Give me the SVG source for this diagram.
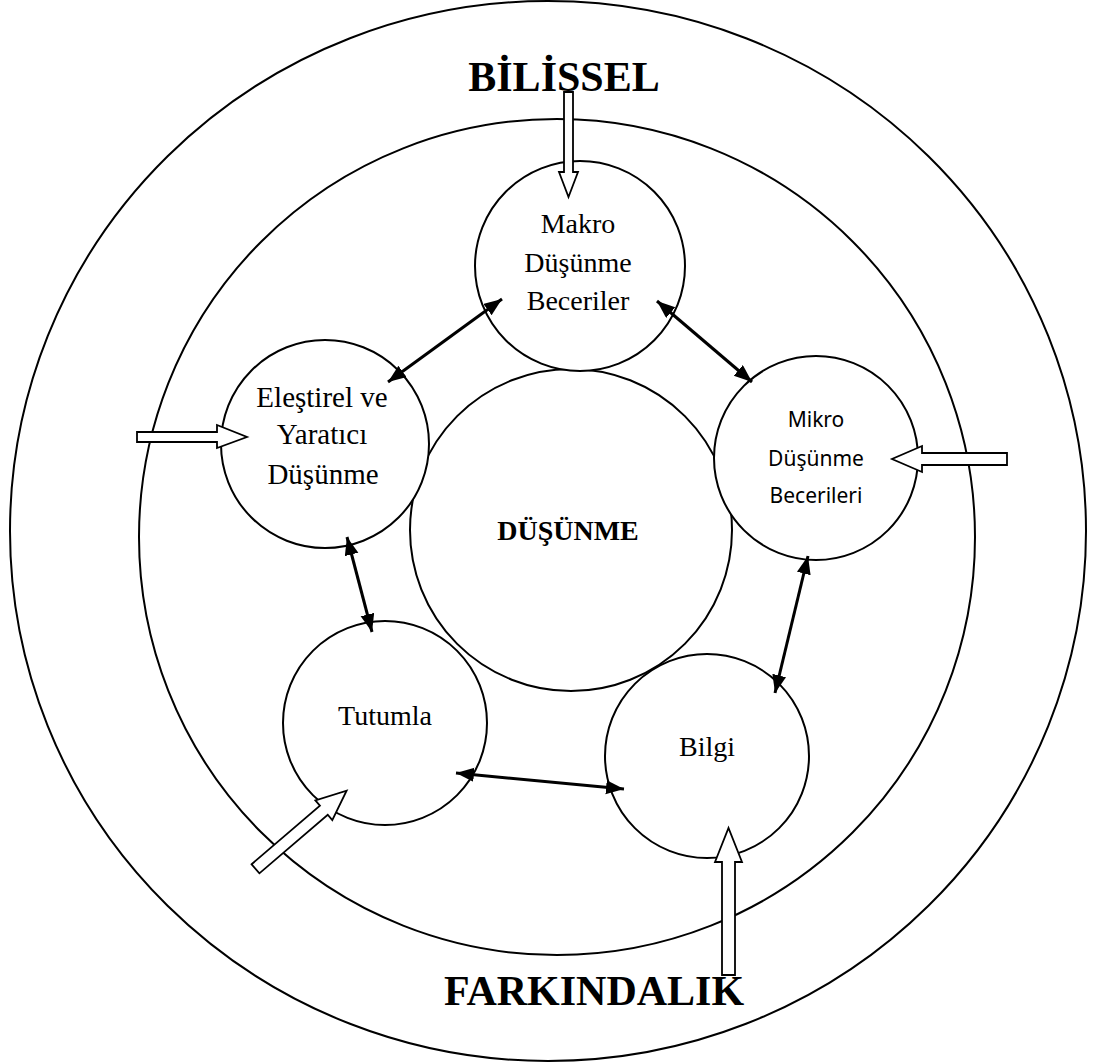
<svg xmlns="http://www.w3.org/2000/svg" width="1097" height="1063" viewBox="0 0 1097 1063">
<style>
.ring{fill:none;stroke:#000;stroke-width:2}
.node{fill:#fff;stroke:#000;stroke-width:2}
.t{font-family:"Liberation Serif","Times New Roman",serif;font-size:28px;fill:#000;text-anchor:middle}
.s{font-family:"Noto Sans","Open Sans",sans-serif;font-size:21px;fill:#000;text-anchor:middle}
.big{font-family:"Liberation Serif","Times New Roman",serif;font-size:42px;font-weight:bold;fill:#000;text-anchor:middle}
.c{fill:none;stroke:#000;stroke-width:3;marker-start:url(#ah);marker-end:url(#ah)}
.ba{fill:#fff;stroke:#000;stroke-width:1.8;stroke-linejoin:miter}
</style>
<defs>
<marker id="ah" markerUnits="userSpaceOnUse" markerWidth="20" markerHeight="16" refX="18" refY="7" orient="auto-start-reverse"><path d="M0,0 L18,7 L0,14 Z" fill="#000"/></marker>
</defs>
<rect width="1097" height="1063" fill="#fff"/>
<g id="rings">
<ellipse class="ring" cx="548" cy="531" rx="538" ry="530"/>
<circle class="ring" cx="557" cy="537" r="418"/>
</g>
<g id="labels">
<text class="big" x="564" y="91">BİLİSSEL</text>
<text class="big" x="594" y="1005">FARKINDALIK</text>
</g>
<g id="center">
<circle class="node" cx="571" cy="530" r="161"/>
<text x="568" y="540" style="font-family:'Liberation Serif','Times New Roman',serif;font-size:28px;font-weight:bold;text-anchor:middle">DÜŞÜNME</text>
</g>
<g id="makro">
<circle class="node" cx="580" cy="266" r="105"/>
<text class="t" x="578" y="233">Makro</text>
<text class="t" x="578" y="272">Düşünme</text>
<text class="t" x="578" y="310">Beceriler</text>
</g>
<g id="elestirel">
<circle class="node" cx="325" cy="444" r="104"/>
<text class="t" x="322" y="407" style="font-size:29px">Eleştirel ve</text>
<text class="t" x="322" y="444" style="font-size:29px">Yaratıcı</text>
<text class="t" x="323" y="484" style="font-size:29px">Düşünme</text>
</g>
<g id="mikro">
<circle class="node" cx="816" cy="458" r="102"/>
<text class="s" x="816" y="427">Mikro</text>
<text class="s" x="816" y="466">Düşünme</text>
<text class="s" x="816" y="503">Becerileri</text>
</g>
<g id="tutumla">
<circle class="node" cx="385" cy="723" r="102"/>
<text class="t" x="385" y="725">Tutumla</text>
</g>
<g id="bilgi">
<circle class="node" cx="707" cy="756" r="102"/>
<text class="t" x="707" y="756">Bilgi</text>
</g>
<g id="connectors">
<line class="c" x1="388" y1="382" x2="502" y2="299"/>
<line class="c" x1="657" y1="301" x2="752" y2="382"/>
<line class="c" x1="347" y1="537" x2="372" y2="632"/>
<line class="c" x1="808" y1="556" x2="775" y2="693"/>
<line class="c" x1="456" y1="773" x2="624" y2="789"/>
</g>
<g id="block-arrows">
<polygon class="ba" points="564,92 573,92 573,172 578,172 568.5,197 559,172 564,172"/>
<polygon class="ba" points="137,432 217,432 217,425 247,437 217,448 217,442 137,442"/>
<polygon class="ba" points="1007,453 922,453 922,446 892,459 922,472 922,465 1007,465"/>
<polygon class="ba" points="722,975 735,975 735,862 742,862 728.5,828 715,862 722,862"/>
<polygon class="ba" transform="translate(255.5,868.8) rotate(-40.6)" points="0,-6 90,-6 90,-13 120,0 90,13 90,6 0,6"/>
</g>
</svg>
